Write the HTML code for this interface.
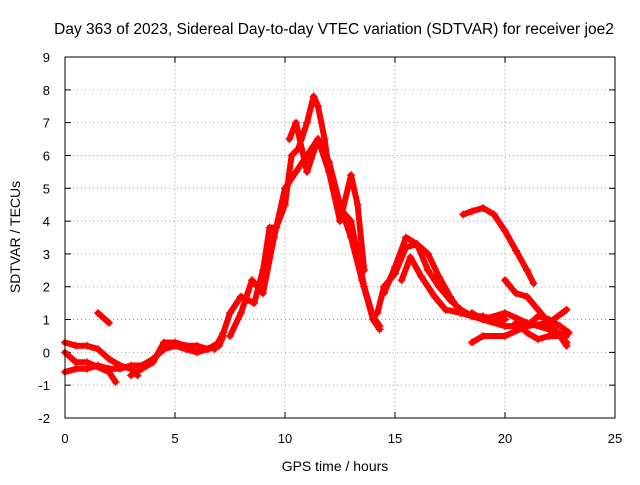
<!DOCTYPE html>
<html><head><meta charset="utf-8"><style>
body{margin:0;background:#fff}
svg{font-family:"Liberation Sans",sans-serif;}
</style></head><body>
<svg width="640" height="480" xmlns="http://www.w3.org/2000/svg">
<rect width="640" height="480" fill="#fff"/>
<text x="334" y="34" font-size="15.5" text-anchor="middle">Day 363 of 2023, Sidereal Day-to-day VTEC variation (SDTVAR) for receiver joe2</text>
<g id="grid"></g>
<g id="axes"></g>
<g id="marks"></g>
<rect x="65" y="57" width="550" height="361" fill="none" stroke="#000" stroke-width="1"/>
<text x="335" y="471" font-size="14" text-anchor="middle">GPS time / hours</text>
<text transform="translate(20,237) rotate(-90)" font-size="14" text-anchor="middle">SDTVAR / TECUs</text>
</svg>
<script>
const xTicks=[0,5,10,15,20,25];
const yTicks=[-2,-1,0,1,2,3,4,5,6,7,8,9];
const trackLow1=[[0,-0.6],[0.5,-0.5],[1,-0.5],[1.5,-0.4],[2,-0.5],[2.5,-0.5],[3,-0.4],[3.5,-0.4],[4,-0.2],[4.5,0.1],[5,0.2],[5.5,0.1],[6,0],[6.5,0.1],[7,0.3]];
const trackLow2=[[0,0.3],[0.5,0.2],[1,0.2],[1.5,0.1],[2,-0.2],[2.5,-0.4],[3,-0.5],[3.3,-0.7]];
const trackLow3=[[0,0],[0.5,-0.3],[1,-0.3],[2,-0.6],[2.3,-0.9]];
const trackLow4=[[3,-0.7],[3.5,-0.5],[4,-0.3],[4.5,0.3],[5,0.3],[5.5,0.2],[6,0.2],[6.5,0.1],[7,0.2],[7.2,0.5]];
const trackShort=[[1.5,1.2],[2,0.9]];
const trackPeak1=[[6.8,0.1],[7.2,0.6],[7.5,1.2],[8,1.7],[8.3,1.6],[8.6,1.5],[9,2.5],[9.3,3.8],[9.6,3.8],[10,4.5],[10.3,6],[10.6,6.2],[11,7],[11.3,7.8],[11.5,7.5],[11.8,6.5],[12,5.5],[12.3,4.8],[12.6,4.3],[13,4],[13.3,3],[13.6,2],[14,1.1],[14.3,0.8]];
const trackPeak2=[[7.5,0.5],[8,1.2],[8.5,2.2],[9,1.8],[9.5,3.5],[10,5],[10.5,5.5],[11,6],[11.5,6.5],[12,5.8],[12.5,4.5],[13,3.5],[13.5,2.2],[14,1],[14.3,0.7]];
const trackPeak3=[[10.2,6.5],[10.5,7],[11,5.5],[11.5,6.5],[12,5.5],[12.5,4],[13,5.4],[13.3,4.5],[13.6,2.5]];
const trackBump1=[[14.2,1.2],[14.5,2],[15,2.4],[15.5,3.2],[16,3.3],[16.5,2.5],[17,2],[17.5,1.6],[18,1.3],[18.5,1.1],[19,1.1],[19.5,1.0],[20,1.0]];
const trackBump2=[[14.5,1.8],[15,2.6],[15.5,3.5],[16,3.3],[16.5,3],[17,2.3],[17.5,1.7],[18,1.2]];
const trackBump3=[[15.3,2.2],[15.7,2.9],[16.2,2.3],[16.8,1.7],[17.3,1.3],[18,1.2],[19,1.0],[20,0.8],[21,0.8],[22,0.9],[22.8,1.3]];
const trackLate1=[[18.5,1.2],[19,1.0],[20,1.2],[21,0.9],[22,0.7],[22.8,0.5]];
const trackTopRight=[[18.1,4.2],[18.5,4.3],[19,4.4],[19.5,4.2],[20,3.7],[20.5,3.1],[21,2.5],[21.3,2.1]];
const trackLate2=[[20,2.2],[20.5,1.8],[21,1.7],[21.5,1.3],[22,0.9],[22.5,0.5],[22.8,0.2]];
const trackLate3=[[18.5,0.3],[19,0.5],[20,0.5],[21,0.8],[21.5,1.1],[22,1.0],[22.5,0.8],[22.9,0.6]];
const trackLate4=[[20.5,0.9],[21,0.6],[21.5,0.4],[22,0.5],[22.5,0.5],[22.8,0.3]];
const tracks=[trackLow1,trackLow2,trackLow3,trackLow4,trackShort,trackPeak1,trackPeak2,trackPeak3,trackBump1,trackBump2,trackBump3,trackLate1,trackTopRight,trackLate2,trackLate3,trackLate4];

const NS="http://www.w3.org/2000/svg";
const X0=65,X1=615,Y0=418,Y1=57,xmin=0,xmax=25,ymin=-2,ymax=9;
function xs(v){return X0+(v-xmin)/(xmax-xmin)*(X1-X0);}
function ys(v){return Y0-(v-ymin)/(ymax-ymin)*(Y0-Y1);}
function mk(t,a){const e=document.createElementNS(NS,t);for(const k in a)e.setAttribute(k,a[k]);return e;}
const grid=document.getElementById('grid'),axes=document.getElementById('axes'),marks=document.getElementById('marks');
xTicks.forEach(t=>{
  const x=xs(t);
  if(t>xmin&&t<xmax){const g=mk('line',{x1:x,x2:x,y1:Y0,y2:Y1,stroke:'#a0a0a0','stroke-dasharray':'1,3'});
  
  
  grid.appendChild(g);}
  const tk=mk('path',{d:`M${x},${Y0}v-6M${x},${Y1}v6`,stroke:'#000'});
  
  
  axes.appendChild(tk);
  const l=mk('text',{x:x,y:Y0+25,'font-size':13,'text-anchor':'middle'});l.textContent=t;
  
  
  axes.appendChild(l);
});
yTicks.forEach(t=>{
  const y=ys(t);
  if(t>ymin&&t<ymax){const g=mk('line',{x1:X0,x2:X1,y1:y,y2:y,stroke:'#a0a0a0','stroke-dasharray':'1,3'});
  
  
  grid.appendChild(g);}
  const tk=mk('path',{d:`M${X0},${y}h6M${X1},${y}h-6`,stroke:'#000'});
  
  
  axes.appendChild(tk);
  const l=mk('text',{x:X0-15,y:y+5,'font-size':13,'text-anchor':'end'});l.textContent=t;
  
  
  axes.appendChild(l);
});
tracks.forEach((tr,i)=>{
  const g=mk('g',{});
  
  
  const p=mk('polyline',{points:tr.map(d=>xs(d[0])+','+ys(d[1])).join(' '),fill:'none',stroke:'#f00','stroke-width':6,'stroke-linejoin':'round','stroke-linecap':'round'});
  
  
  g.appendChild(p);
  tr.forEach(d=>{
    const x=xs(d[0]),y=ys(d[1]);
    const m=mk('path',{d:`M${x-4},${y}h8M${x},${y-4}v8`,stroke:'#f00','stroke-width':1.2});
    
    
    g.appendChild(m);
  });
  marks.appendChild(g);
});
</script>
</body></html>
